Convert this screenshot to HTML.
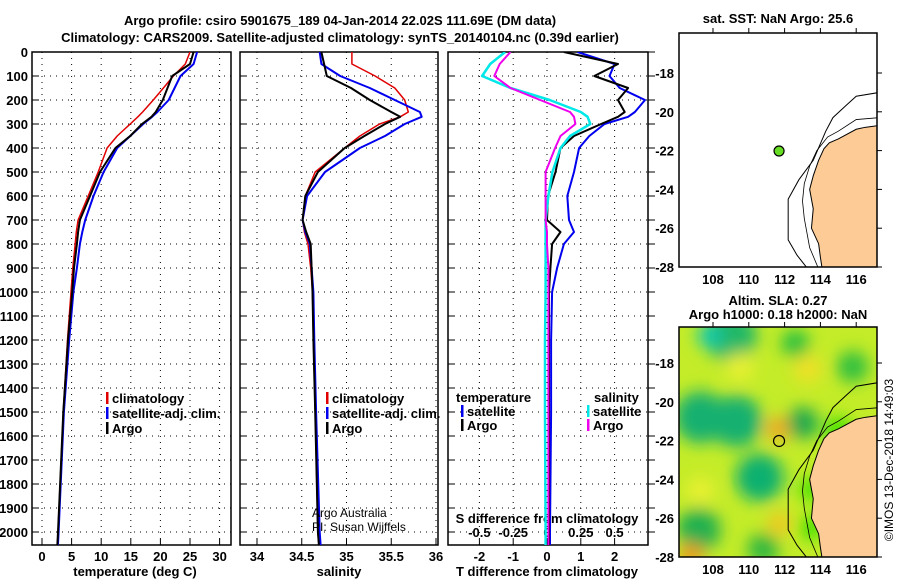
<!DOCTYPE html>
<html><head><meta charset="utf-8">
<style>
body{margin:0;background:#fff;}
svg text{font-family:"Liberation Sans",sans-serif;font-weight:bold;font-size:13px;fill:#000;}
svg text.normal{font-weight:normal;font-size:12px;}
</style></head>
<body>
<svg id="c" width="900" height="580" xmlns="http://www.w3.org/2000/svg">
<defs>
<filter id="blur" x="-50%" y="-50%" width="200%" height="200%"><feGaussianBlur stdDeviation="8"/></filter>
<clipPath id="m2clip"><rect x="679" y="327" width="198" height="230"/></clipPath>
<clipPath id="m1clip"><rect x="679" y="33" width="198" height="234"/></clipPath>
<clipPath id="p1clip"><rect x="32" y="52" width="199" height="493"/></clipPath>
<clipPath id="p2clip"><rect x="240" y="52" width="198" height="493"/></clipPath>
<clipPath id="p3clip"><rect x="448" y="52" width="200" height="493"/></clipPath>
</defs>
<text x="340" y="25" text-anchor="middle" font-size="14">Argo profile: csiro 5901675_189 04-Jan-2014 22.02S 111.69E (DM data)</text>
<text x="340" y="42" text-anchor="middle" font-size="14">Climatology: CARS2009. Satellite-adjusted climatology: synTS_20140104.nc (0.39d earlier)</text>
<g id="plots"></g>
</svg>
<script>
const depths=[0,50,100,150,200,250,270,300,350,400,500,600,700,750,800,900,1000,1200,1500,2000,2100];
const tempArgo=[25.6,25.0,22.0,21.2,20.4,19.2,18.5,16.9,14.9,12.4,9.8,8.1,6.4,6.1,5.9,5.4,5.1,4.4,3.6,2.7,2.5];
const tempClim=[25.0,24.2,22.2,20.5,18.8,17.0,16.2,14.9,12.7,11.0,9.5,7.8,6.1,5.8,5.6,5.2,4.9,4.3,3.6,2.7,2.5];
const tempSat=[26.2,25.6,23.4,22.4,21.4,19.5,18.6,17.1,14.9,12.7,10.4,8.7,7.3,6.8,6.4,5.9,5.3,4.6,3.7,2.8,2.6];
const salArgo=[34.72,34.75,34.78,35.05,35.26,35.50,35.60,35.43,35.20,34.98,34.68,34.54,34.51,34.55,34.60,34.61,34.62,34.63,34.65,34.68,34.70];
const salClim=[35.06,35.06,35.32,35.54,35.65,35.69,35.60,35.37,35.15,34.98,34.65,34.54,34.51,34.53,34.57,34.60,34.62,34.63,34.65,34.68,34.70];
const salSat=[34.70,34.72,34.93,35.26,35.54,35.82,35.84,35.65,35.43,35.15,34.76,34.56,34.51,34.54,34.59,34.61,34.63,34.64,34.66,34.70,34.72];
const dTArgo=[0.5,2.1,1.4,2.4,2.1,2.3,2.1,1.6,0.8,0.4,0.25,0.03,0.0,0.4,0.15,0.1,0.06,0.06,0.06,0.06,0.06];
const dTSat=[0.9,2.0,1.85,2.15,2.9,2.6,2.4,1.7,1.25,0.95,0.8,0.6,0.65,0.8,0.5,0.3,0.15,0.12,0.12,0.09,0.09];
const dSSat=[-0.31,-0.42,-0.48,-0.27,0.02,0.25,0.30,0.32,0.17,0.10,0.04,0.01,-0.01,-0.01,-0.01,-0.01,-0.01,-0.015,-0.015,-0.01,-0.01];
const dSArgo=[-0.27,-0.35,-0.39,-0.27,-0.05,0.17,0.20,0.21,0.10,0.06,-0.01,-0.01,-0.01,0.0,0.0,0.01,0.01,0.01,0.01,0.01,0.01];
const depthTicks=[0,100,200,300,400,500,600,700,800,900,1000,1100,1200,1300,1400,1500,1600,1700,1800,1900,2000];
const tempTicks=[0,5,10,15,20,25,30];
const salTicks=[34,34.5,35,35.5,36];
const salTickLabels=["34","34.5","35","35.5","36"];
const dTTicks=[-2,-1,0,1,2];
const dSTicks=[-0.5,-0.25,0,0.25,0.5];
const dSTickLabels=["-0.5","-0.25","0","0.25","0.5"];
const latTicks=[-18,-20,-22,-24,-26,-28];
const lonTicks=[108,110,112,114,116];
const argoLon=111.69, argoLat=-22.02;

const NS="http://www.w3.org/2000/svg";
const G=document.getElementById('plots');
function mk(tag,attrs,parent){const e=document.createElementNS(NS,tag);for(const k in attrs)e.setAttribute(k,attrs[k]);(parent||G).appendChild(e);return e;}
const yD=d=>52+0.24*d;
const TOP=52,BOT=545;
const xT=t=>42+5.92*t;
const xS=s=>257+89.5*(s-34);
const xDT=t=>547+33.8*t;
const xDS=s=>547+135.2*s;

function frame(x0,x1,name){
  depthTicks.forEach(d=>{
    const l=mk('line',{x1:x0,x2:x1,y1:yD(d),y2:yD(d),stroke:'#000','stroke-dasharray':'1 5','stroke-width':1});
    
    
    mk('line',{x1:x0,x2:x0+6,y1:yD(d),y2:yD(d),stroke:'#000'});
  });
  const r=mk('rect',{x:x0,y:TOP,width:x1-x0,height:BOT-TOP,fill:'none',stroke:'#000','stroke-width':1.5});
  
  
}
function vgrid(xs,fx){
  xs.forEach(v=>{
    const l=mk('line',{x1:fx(v),x2:fx(v),y1:TOP,y2:BOT,stroke:'#000','stroke-dasharray':'1 5'});
    
    
    mk('line',{x1:fx(v),x2:fx(v),y1:BOT,y2:BOT-6,stroke:'#000'});
  });
}
function line(vals,fx,color,w,name,clip){
  const pts=vals.map((v,i)=>fx(v).toFixed(1)+','+yD(depths[i]).toFixed(1)).join(' ');
  const p=mk('polyline',{points:pts,fill:'none',stroke:color,'stroke-width':w,'stroke-linejoin':'round','clip-path':'url(#'+clip+')'});
  
  
}
function txt(x,y,s,anchor,name,extra){
  const t=mk('text',Object.assign({x:x,y:y,'text-anchor':anchor||'start'},extra||{}));
  t.textContent=s;
  
  
  return t;
}
function legend(x,y,color,label,name){
  mk('rect',{x:x,y:y-11,width:2.5,height:12,fill:color});
  txt(x+6,y,label,'start',name);
}

// Panel 1
vgrid(tempTicks,xT);
frame(32,231,'temperature-panel');
depthTicks.forEach(d=>txt(28,yD(d)+5,String(d),'end','depth-tick-label'));
tempTicks.forEach(t=>txt(xT(t),561,String(t),'middle','temperature-tick-label'));
line(tempClim,xT,'#e00000',1.5,'temperature-climatology-line','p1clip');
line(tempSat,xT,'#0000ee',2,'temperature-satellite-line','p1clip');
line(tempArgo,xT,'#000',2,'temperature-argo-line','p1clip');
txt(135,576,'temperature (deg C)','middle','temperature-axis-title');
legend(106,403,'#e00000','climatology','legend-climatology');
legend(106,418,'#0000ee','satellite-adj. clim.','legend-satellite');
legend(106,433,'#000','Argo','legend-argo');

// Panel 2
vgrid(salTicks,xS);
frame(240,438,'salinity-panel');
salTicks.forEach((s,i)=>txt(xS(s),561,salTickLabels[i],'middle','salinity-tick-label'));
line(salClim,xS,'#e00000',1.5,'salinity-climatology-line','p2clip');
line(salSat,xS,'#0000ee',2,'salinity-satellite-line','p2clip');
line(salArgo,xS,'#000',2,'salinity-argo-line','p2clip');
txt(339,576,'salinity','middle','salinity-axis-title');
legend(326,403,'#e00000','climatology','legend-climatology-2');
legend(326,418,'#0000ee','satellite-adj. clim.','legend-satellite-2');
legend(326,433,'#000','Argo','legend-argo-2');
txt(312,517,'Argo Australia','start','credit-argo-australia',{'class':'normal'});
txt(312,531,'PI: Susan Wijffels','start','credit-pi',{'class':'normal'});

// Panel 3
vgrid(dTTicks,xDT);
frame(448,648,'difference-panel');
depthTicks.forEach(d=>mk('line',{x1:648,x2:655,y1:yD(d),y2:yD(d),stroke:'#000'}));
dTTicks.forEach(t=>txt(xDT(t),561,String(t),'middle','t-diff-tick-label'));
dSTicks.forEach((s,i)=>txt(xDS(s),537,dSTickLabels[i],'middle','s-diff-tick-label'));
txt(547,523,'S difference from climatology','middle','s-diff-axis-title');
txt(547,576,'T difference from climatology','middle','t-diff-axis-title');
line(dTSat,xDT,'#0000ee',2,'t-diff-satellite-line','p3clip');
line(dTArgo,xDT,'#000',2,'t-diff-argo-line','p3clip');
line(dSSat,xDS,'#00e8e8',2.5,'s-diff-satellite-line','p3clip');
line(dSArgo,xDS,'#ee00ee',2,'s-diff-argo-line','p3clip');
txt(456,402,'temperature','start','legend-temperature-heading');
legend(461,416,'#0000ee','satellite','legend-t-satellite');
legend(461,430,'#000','Argo','legend-t-argo');
txt(594,402,'salinity','start','legend-salinity-heading');
legend(587,416,'#00e8e8','satellite','legend-s-satellite');
legend(587,430,'#ee00ee','Argo','legend-s-argo');

// Maps
const MX0=679,MX1=877;
const lonX=lon=>713+17.9*(lon-108);
const latY1=lat=>73+19.4*(-18-lat);
const latY2=lat=>363+19.4*(-18-lat);
const landPts=[[117.3,-20.7],[116.5,-20.8],[116.0,-20.9],[115.0,-21.4],[114.5,-21.6],[114.2,-21.9],[113.9,-22.5],[113.6,-23.3],[113.4,-24],[113.6,-25],[113.5,-26],[113.9,-26.8],[114.0,-27.5],[114.1,-28.1],[117.3,-28.1]];
const shelfPts=[[117.3,-19.0],[116,-19.2],[115.4,-19.7],[114.7,-20.3],[114.3,-21.0],[113.6,-22.5],[112.8,-23.5],[112.2,-24.5],[112.2,-26.6],[112.7,-27.4],[113.3,-28.1]];
const innerPts=[[117.3,-20.3],[116,-20.4],[115,-21.0],[114.4,-21.3],[113.8,-22.0],[113.4,-22.8],[113.1,-23.7],[113.0,-24.6],[113.1,-25.5],[113.4,-27],[113.9,-28.1]];
function mapPanel(y0,h,latY,title1,title2,name,sla){
  const clip=sla?'url(#m2clip)':'url(#m1clip)';
  const g=mk('g',{});
  
  
  if(sla){
    mk('rect',{x:MX0,y:y0,width:MX1-MX0,height:h,fill:'#c4ec28'},g);
    const bl=mk('g',{filter:'url(#blur)','clip-path':clip},g);
    const blobs=[[109,-16.6,'#20b868',26],[107.8,-16.6,'#10c8b0',12],[107.3,-20.8,'#18b070',26],[109.3,-21,'#18b070',26],[113,-21.1,'#1aa850',16],[110.6,-23.9,'#10b070',24],[107.2,-26.6,'#20b050',22],[110.8,-27.6,'#30b840',16],[112.6,-17,'#28c040',14],[111.6,-21.4,'#f0a820',12],[113.3,-18.3,'#f0e028',14],[106.8,-27.9,'#f09818',12],[111.7,-26.3,'#f0c820',12],[115.8,-18.2,'#30c040',16],[109.5,-18.2,'#e8f030',14],[107.3,-24.6,'#e8f030',14],[115,-21.5,'#40e000',14],[113.5,-24.5,'#40e000',12],[113.5,-26.5,'#40e000',12]];
    blobs.forEach(b=>mk('circle',{cx:lonX(b[0]),cy:latY(b[1]),r:b[3],fill:b[2]},bl));
  } else {
    mk('rect',{x:MX0,y:y0,width:MX1-MX0,height:h,fill:'#fff'},g);
  }
  mk('polygon',{points:landPts.map(p=>lonX(p[0])+','+latY(p[1])).join(' '),fill:'#fccb96',stroke:'#000','stroke-width':1,'clip-path':clip},g);
  mk('polyline',{points:shelfPts.map(p=>lonX(p[0])+','+latY(p[1])).join(' '),fill:'none',stroke:'#000','stroke-width':1,'clip-path':clip},g);
  mk('polyline',{points:innerPts.map(p=>lonX(p[0])+','+latY(p[1])).join(' '),fill:'none',stroke:'#000','stroke-width':0.8,'clip-path':clip},g);
  mk('rect',{x:MX0,y:y0,width:MX1-MX0,height:h,fill:'none',stroke:'#000','stroke-width':1.5},g);
  latTicks.forEach(l=>{mk('line',{x1:MX1,x2:MX1+5,y1:latY(l),y2:latY(l),stroke:'#000'},g);txt(674,latY(l)+5,String(l),'end','lat-tick-label');});
  lonTicks.forEach(l=>{mk('line',{x1:lonX(l),x2:lonX(l),y1:y0,y2:y0-5,stroke:'#000'},g);txt(lonX(l),y0+h+17,String(l),'middle','lon-tick-label');});
  const d=mk('circle',{cx:lonX(argoLon),cy:latY(argoLat),r:sla?5.5:5,fill:sla?'none':'#66dd22',stroke:'#000','stroke-width':1.2},g);
  
  
  txt(778,title2?(y0-22):(y0-10),title1,'middle','map-title');
  if(title2) txt(778,y0-8,title2,'middle','map-subtitle');
}
mapPanel(33,234,latY1,'sat. SST: NaN Argo: 25.6',null,'sst-map',false);
mapPanel(327,230,latY2,'Altim. SLA: 0.27','Argo h1000: 0.18 h2000: NaN','sla-map',true);
txt(0,0,'©IMOS 13-Dec-2018 14:49:03','middle','timestamp',{'class':'normal',transform:'translate(893,460) rotate(-90)'});
</script>
</body></html>
